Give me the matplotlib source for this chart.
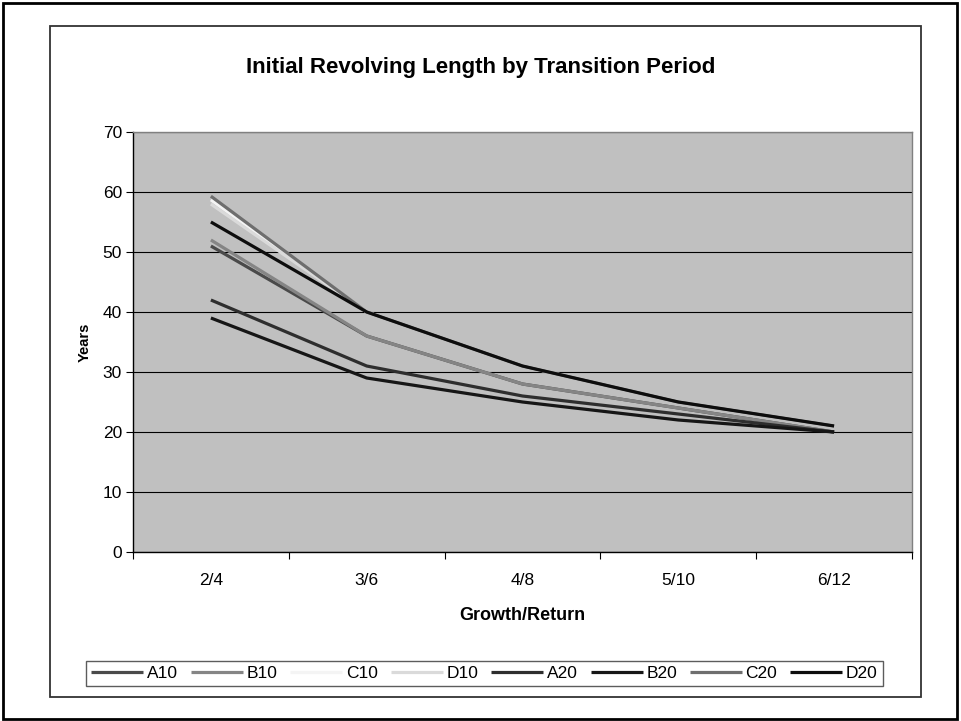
import numpy as np
import matplotlib.pyplot as plt
from matplotlib.patches import Rectangle

plt.rcParams['font.family'] = ['Liberation Sans', 'DejaVu Sans']

# data
periods = ['2/4', '3/6', '4/8', '5/10', '6/12']
series_names = ['A10', 'B10', 'C10', 'D10', 'A20', 'B20', 'C20', 'D20']
a10 = [51, 36, 28, 24, 20]
b10 = [52, 36, 28, 24, 20]
c10 = [58.7, 40, 31, 25, 21]
d10 = [58, 40, 31, 25, 21]
a20 = [42, 31, 26, 23, 20]
b20 = [39, 29, 25, 22, 20]
c20 = [59.3, 40, 31, 25, 21]
d20 = [55, 40, 31, 25, 21]
all_series = [a10, b10, c10, d10, a20, b20, c20, d20]
colors = ['#4a4a4a', '#858585', '#f4f4f4', '#dadada',
          '#2e2e2e', '#161616', '#6e6e6e', '#0d0d0d']

W, H = 961, 721
fig = plt.figure(figsize=(W / 100, H / 100), dpi=100)
ax = fig.add_axes([133 / W, 1 - 552 / H, (912 - 133) / W, (552 - 132) / H])
ax.set_facecolor('#c0c0c0')

x = np.arange(len(periods))
for vals, name, col in zip(all_series, series_names, colors):
    ax.plot(x, vals, color=col, linewidth=2.3, label=name, solid_capstyle='butt')

ax.set_xlim(-0.5, len(periods) - 0.5)
ax.set_ylim(0, 70)
ax.set_yticks(range(0, 71, 10))
ax.yaxis.grid(True, color='#000000', linewidth=0.8)
ax.set_axisbelow(True)
ax.set_xticks(x)
ax.set_xticklabels(periods)
ax.set_xticks(np.arange(-0.5, len(periods), 1), minor=True)
ax.tick_params(axis='x', which='major', length=0, pad=15, labelsize=12.5)
ax.tick_params(axis='x', which='minor', length=5, width=0.8)
ax.tick_params(axis='y', length=5, width=0.8, labelsize=12.5, pad=3)

for s in ['top', 'right']:
    ax.spines[s].set_color('#808080')
    ax.spines[s].set_linewidth(1.0)
for s in ['left', 'bottom']:
    ax.spines[s].set_color('black')
    ax.spines[s].set_linewidth(1.0)

ax.set_xlabel('Growth/Return', fontsize=13, fontweight='bold', labelpad=14)
ax.set_ylabel('Years', fontsize=10.5, fontweight='bold', labelpad=8)
fig.text(0.5, 1 - 67 / H, 'Initial Revolving Length by Transition Period',
         ha='center', va='center', fontsize=16, fontweight='bold')

leg = fig.legend(loc='center', bbox_to_anchor=(484.5 / W, 1 - 673.5 / H),
                 ncol=8, fontsize=12.5, handlelength=3.0, handletextpad=0.2,
                 columnspacing=0.75, borderpad=0.3, frameon=True, fancybox=False)
leg.get_frame().set_edgecolor('#333333')
leg.get_frame().set_linewidth(1.0)

# chart area border and outer border
fig.patches.append(Rectangle((50 / W, 1 - 697 / H), (921 - 50) / W, (697 - 26) / H,
                             transform=fig.transFigure, fill=False,
                             edgecolor='#333333', linewidth=1.3))
fig.patches.append(Rectangle((3 / W, 1 - 719 / H), (957 - 3) / W, (719 - 3) / H,
                             transform=fig.transFigure, fill=False,
                             edgecolor='black', linewidth=2.0))

plt.savefig('out.png', dpi=100)
